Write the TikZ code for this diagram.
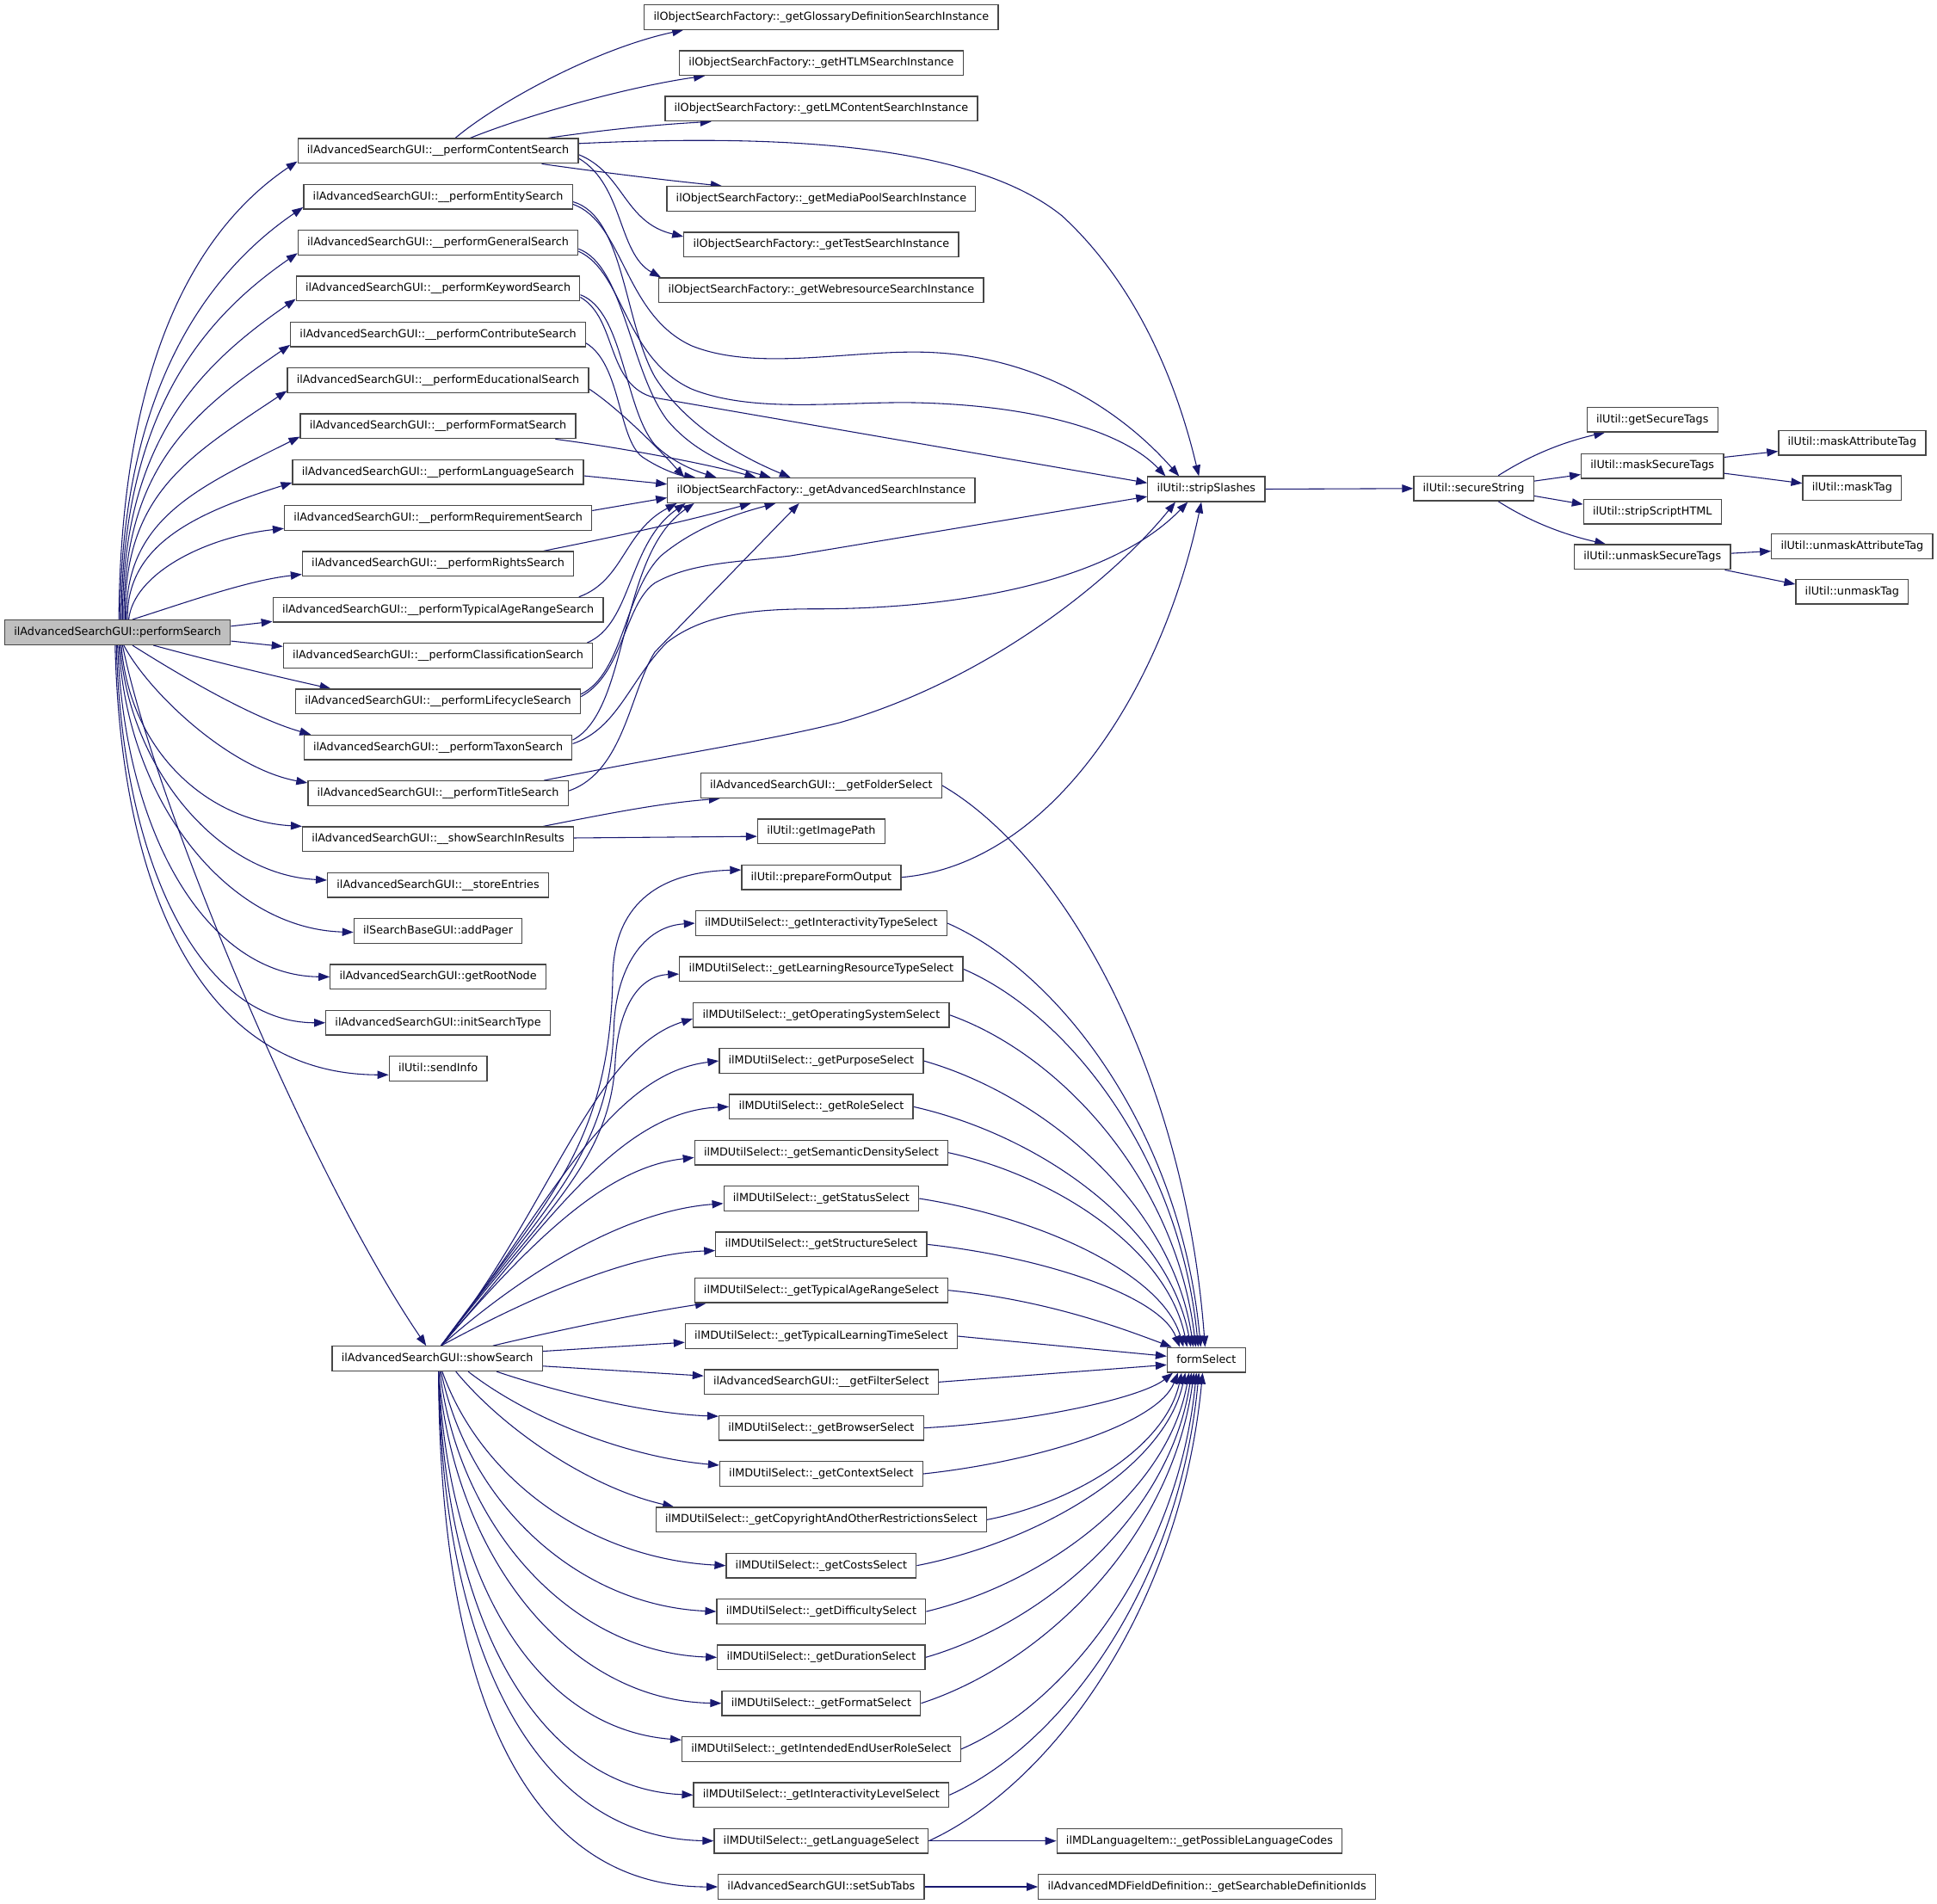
\documentclass[tikz,border=0pt]{standalone}
\usepackage{fontspec}
\setmainfont{DejaVu Sans}
\usetikzlibrary{arrows.meta,calc}
\definecolor{edgec}{HTML}{191970}
\definecolor{rootfill}{HTML}{BFBFBF}
\pgfdeclarelayer{bg}
\pgfsetlayers{bg,main}
\begin{document}
\begin{tikzpicture}[x=1pt,y=-1pt,
  box/.style={draw=black!72, line width=0.9pt, fill=white, font=\fontsize{8.9}{10}\selectfont,
    minimum height=20pt, inner xsep=7.5pt, inner ysep=0pt, text height=6.7pt, text depth=1.9pt},
  rootbox/.style={box, fill=rootfill},
  e/.style={draw=edgec, line width=0.75pt, -{Triangle[length=9pt,width=6.5pt]}}]
\useasboundingbox (0,0) rectangle (1568,1541.5);

% root
\node[rootbox] (root) at (95.2,512) {ilAdvancedSearchGUI::performSearch};

% column 2
\node[box] (p1)  at (354.6,122.20) {ilAdvancedSearchGUI::\_\_performContentSearch};
\node[box] (p2)  at (354.6,159.35) {ilAdvancedSearchGUI::\_\_performEntitySearch};
\node[box] (p3)  at (354.6,196.50) {ilAdvancedSearchGUI::\_\_performGeneralSearch};
\node[box] (p4)  at (354.6,233.65) {ilAdvancedSearchGUI::\_\_performKeywordSearch};
\node[box] (p5)  at (354.6,270.80) {ilAdvancedSearchGUI::\_\_performContributeSearch};
\node[box] (p6)  at (354.6,307.95) {ilAdvancedSearchGUI::\_\_performEducationalSearch};
\node[box] (p7)  at (354.6,345.10) {ilAdvancedSearchGUI::\_\_performFormatSearch};
\node[box] (p8)  at (354.6,382.25) {ilAdvancedSearchGUI::\_\_performLanguageSearch};
\node[box] (p9)  at (354.6,419.40) {ilAdvancedSearchGUI::\_\_performRequirementSearch};
\node[box] (p10) at (354.6,456.55) {ilAdvancedSearchGUI::\_\_performRightsSearch};
\node[box] (p11) at (354.6,493.70) {ilAdvancedSearchGUI::\_\_performTypicalAgeRangeSearch};
\node[box] (p12) at (354.6,530.85) {ilAdvancedSearchGUI::\_\_performClassificationSearch};
\node[box] (p13) at (354.6,568.00) {ilAdvancedSearchGUI::\_\_performLifecycleSearch};
\node[box] (p14) at (354.6,605.15) {ilAdvancedSearchGUI::\_\_performTaxonSearch};
\node[box] (p15) at (354.6,642.30) {ilAdvancedSearchGUI::\_\_performTitleSearch};
\node[box] (p16) at (354.6,679.45) {ilAdvancedSearchGUI::\_\_showSearchInResults};
\node[box] (p17) at (354.6,716.60) {ilAdvancedSearchGUI::\_\_storeEntries};
\node[box] (p18) at (354.6,753.75) {ilSearchBaseGUI::addPager};
\node[box] (p19) at (354.6,790.90) {ilAdvancedSearchGUI::getRootNode};
\node[box] (p20) at (354.6,828.05) {ilAdvancedSearchGUI::initSearchType};
\node[box] (p21) at (354.6,865.20) {ilUtil::sendInfo};
\node[box] (ss)  at (354.0,1100)   {ilAdvancedSearchGUI::showSearch};

% column 3 upper
\node[box] (g1) at (664.8,13.8)  {ilObjectSearchFactory::\_getGlossaryDefinitionSearchInstance};
\node[box] (g2) at (664.8,51.0)  {ilObjectSearchFactory::\_getHTLMSearchInstance};
\node[box] (g3) at (664.8,88.0)  {ilObjectSearchFactory::\_getLMContentSearchInstance};
\node[box] (g4) at (664.8,161.0) {ilObjectSearchFactory::\_getMediaPoolSearchInstance};
\node[box] (g5) at (664.8,198.0) {ilObjectSearchFactory::\_getTestSearchInstance};
\node[box] (g6) at (664.8,235.0) {ilObjectSearchFactory::\_getWebresourceSearchInstance};
\node[box] (adv) at (664.8,397.0) {ilObjectSearchFactory::\_getAdvancedSearchInstance};

% column 3 lower
\node[box] (fold) at (664.8,636.00)  {ilAdvancedSearchGUI::\_\_getFolderSelect};
\node[box] (img)  at (664.8,673.15)  {ilUtil::getImagePath};
\node[box] (pfo)  at (664.8,710.30)  {ilUtil::prepareFormOutput};
\node[box] (s1)   at (664.8,747.45)  {ilMDUtilSelect::\_getInteractivityTypeSelect};
\node[box] (s2)   at (664.8,784.60)  {ilMDUtilSelect::\_getLearningResourceTypeSelect};
\node[box] (s3)   at (664.8,821.75)  {ilMDUtilSelect::\_getOperatingSystemSelect};
\node[box] (s4)   at (664.8,858.90)  {ilMDUtilSelect::\_getPurposeSelect};
\node[box] (s5)   at (664.8,896.05)  {ilMDUtilSelect::\_getRoleSelect};
\node[box] (s6)   at (664.8,933.20)  {ilMDUtilSelect::\_getSemanticDensitySelect};
\node[box] (s7)   at (664.8,970.35)  {ilMDUtilSelect::\_getStatusSelect};
\node[box] (s8)   at (664.8,1007.50) {ilMDUtilSelect::\_getStructureSelect};
\node[box] (s9)   at (664.8,1044.65) {ilMDUtilSelect::\_getTypicalAgeRangeSelect};
\node[box] (s10)  at (664.8,1081.80) {ilMDUtilSelect::\_getTypicalLearningTimeSelect};
\node[box] (s11)  at (664.8,1118.95) {ilAdvancedSearchGUI::\_\_getFilterSelect};
\node[box] (s12)  at (664.8,1156.10) {ilMDUtilSelect::\_getBrowserSelect};
\node[box] (s13)  at (664.8,1193.25) {ilMDUtilSelect::\_getContextSelect};
\node[box] (s14)  at (664.8,1230.40) {ilMDUtilSelect::\_getCopyrightAndOtherRestrictionsSelect};
\node[box] (s15)  at (664.8,1267.55) {ilMDUtilSelect::\_getCostsSelect};
\node[box] (s16)  at (664.8,1304.70) {ilMDUtilSelect::\_getDifficultySelect};
\node[box] (s17)  at (664.8,1341.85) {ilMDUtilSelect::\_getDurationSelect};
\node[box] (s18)  at (664.8,1379.00) {ilMDUtilSelect::\_getFormatSelect};
\node[box] (s19)  at (664.8,1416.15) {ilMDUtilSelect::\_getIntendedEndUserRoleSelect};
\node[box] (s20)  at (664.8,1453.30) {ilMDUtilSelect::\_getInteractivityLevelSelect};
\node[box] (s21)  at (664.8,1490.45) {ilMDUtilSelect::\_getLanguageSelect};
\node[box] (sub)  at (664.8,1527.60) {ilAdvancedSearchGUI::setSubTabs};

% column 4
\node[box] (strip) at (976.5,396.0)   {ilUtil::stripSlashes};
\node[box] (form)  at (976.5,1101.0)  {formSelect};
\node[box] (lang)  at (971.0,1490.45) {ilMDLanguageItem::\_getPossibleLanguageCodes};
\node[box] (defs)  at (977.0,1527.60) {ilAdvancedMDFieldDefinition::\_getSearchableDefinitionIds};

% column 5-7
\node[box] (sec) at (1192.9,395.5) {ilUtil::secureString};
\node[box] (gst) at (1337.6,339.7) {ilUtil::getSecureTags};
\node[box] (mst) at (1337.6,377.2) {ilUtil::maskSecureTags};
\node[box] (ssh) at (1337.6,414.3) {ilUtil::stripScriptHTML};
\node[box] (ust) at (1337.6,451.0) {ilUtil::unmaskSecureTags};
\node[box] (mat) at (1499.3,358.4) {ilUtil::maskAttributeTag};
\node[box] (mt)  at (1499.3,395.3) {ilUtil::maskTag};
\node[box] (uat) at (1499.3,442.2) {ilUtil::unmaskAttributeTag};
\node[box] (ut)  at (1499.3,479.0) {ilUtil::unmaskTag};

\begin{pgfonlayer}{bg}
% root top fan
\draw[e] ($(root.north)+(1,0)$) .. controls (98,290) and (160,185) .. ($(p1.south west)+(0,-2)$);
\draw[e] ($(root.north)+(2,0)$) .. controls (98,318) and (166,222) .. ($(p2.south west)+(0,-2)$);
\draw[e] ($(root.north)+(3,0)$) .. controls (99,338) and (161,260) .. ($(p3.south west)+(0,-2)$);
\draw[e] ($(root.north)+(4,0)$) .. controls (99,359) and (160,297) .. ($(p4.south west)+(0,-2)$);
\draw[e] ($(root.north)+(5,0)$) .. controls (100,379) and (155,334) .. ($(p5.south west)+(0,-2)$);
\draw[e] ($(root.north)+(6,0)$) .. controls (100,400) and (152,370) .. ($(p6.south west)+(0,-2)$);
\draw[e] ($(root.north)+(7,0)$) .. controls (101,420) and (160,395) .. ($(p7.south west)+(0,-2)$);
\draw[e] ($(root.north)+(8,0)$) .. controls (102,440) and (160,415) .. ($(p8.south west)+(0,-2)$);
\draw[e] ($(root.north)+(9,0)$) .. controls (108,465) and (165,435) .. ($(p9.south west)+(0,-2)$);
\draw[e] ($(root.north)+(12,0)$) .. controls (150,488) and (200,470) .. ($(p10.south west)+(0,-2)$);
% root right
\draw[e] ($(root.east)+(0,-5)$) -- ($(p11.south west)+(0,-1)$);
\draw[e] ($(root.east)+(0,7)$) -- ($(p12.north west)+(0,3)$);
% root bottom fan
\draw[e] ($(root.south)+(29,0)$) .. controls (170,535) and (225,548) .. ($(p13.north west)+(29,0)$);
\draw[e] ($(root.south)+(12,0)$) .. controls (135,540) and (200,580) .. ($(p14.north west)+(6,0)$);
\draw[e] ($(root.south)+(5,0)$) .. controls (120,560) and (185,622) .. ($(p15.north west)+(0,2)$);
\draw[e] ($(root.south)+(3,0)$) .. controls (105,610) and (170,665) .. (p16.north west);
\draw[e] ($(root.south)+(2,0)$) .. controls (104,620) and (175,708) .. ($(p17.west)+(0,-4)$);
\draw[e] ($(root.south)+(1,0)$) .. controls (103,650) and (185,752) .. ($(p18.west)+(0,1)$);
\draw[e] (root.south) .. controls (101,680) and (170,790) .. (p19.west);
\draw[e] ($(root.south)+(-1,0)$) .. controls (99,705) and (165,828) .. (p20.west);
\draw[e] ($(root.south)+(-2,0)$) .. controls (98,725) and (165,870) .. ($(p21.west)+(0,5)$);
\draw[e] ($(root.south)+(4,0)$) .. controls (125,650) and (250,950) .. ($(ss.north)+(-9,0)$);

% content search
\draw[e] ($(p1.north)+(14,0)$) .. controls (400,85) and (480,40) .. ($(g1.south west)+(32,0)$);
\draw[e] ($(p1.north)+(26,0)$) .. controls (430,92) and (510,70) .. ($(g2.south west)+(21,0)$);
\draw[e] ($(p1.north east)+(-25,0)$) .. controls (490,105) and (530,101) .. ($(g3.south west)+(38,0)$);
\draw[e] ($(p1.south east)+(-30,0)$) .. controls (490,140) and (540,146) .. ($(g4.north west)+(45,0)$);
\draw[e] ($(p1.east)+(0,3)$) .. controls (505,140) and (505,180) .. ($(g5.north west)+(0,4)$);
\draw[e] ($(p1.east)+(0,6)$) .. controls (505,150) and (500,205) .. ($(g6.north west)+(2,0)$);
\draw[e] ($(p1.east)+(0,-6)$) .. controls (640,108) and (790,118) .. (860,175) .. controls (925,235) and (955,320) .. ($(strip.north)+(-6,0)$);

% entity, general, keyword
\draw[e] ($(p2.east)+(0,4)$) .. controls (505,175) and (505,260) .. (530,305) .. controls (555,345) and (600,370) .. ($(adv.north west)+(100,0)$);
\draw[e] ($(p2.east)+(0,6)$) .. controls (505,180) and (505,255) .. (560,280) .. controls (610,300) and (680,285) .. (740,285) .. controls (840,285) and (910,335) .. ($(strip.north)+(-22,0)$);
\draw[e] ($(p3.east)+(0,5)$) .. controls (505,215) and (510,300) .. (540,340) .. controls (565,370) and (600,380) .. ($(adv.north west)+(84,0)$);
\draw[e] ($(p3.east)+(0,7)$) .. controls (505,220) and (505,290) .. (560,315) .. controls (610,335) and (680,325) .. (740,326) .. controls (840,328) and (910,350) .. ($(strip.north)+(-33,0)$);
\draw[e] ($(p4.east)+(0,5)$) .. controls (505,252) and (505,330) .. (530,360) .. controls (545,375) and (565,382) .. ($(adv.north west)+(40,0)$);
\draw[e] ($(p4.east)+(0,7)$) .. controls (500,258) and (490,312) .. (530,322) -- ($(strip.west)+(0,-5)$);
% contribute .. requirement
\draw[e] ($(p5.east)+(0,7)$) .. controls (503,295) and (500,355) .. (520,370) .. controls (535,380) and (550,385) .. ($(adv.north west)+(23,0)$);
\draw[e] ($(p6.east)+(0,7)$) .. controls (500,330) and (535,365) .. ($(adv.north west)+(14,0)$);
\draw[e] ($(p7.south east)+(-17,0)$) .. controls (500,362) and (570,375) .. ($(adv.north west)+(72,0)$);
\draw[e] ($(p8.east)+(0,3)$) -- ($(adv.west)+(0,-5)$);
\draw[e] ($(p9.east)+(0,-6)$) -- ($(adv.west)+(0,6)$);
% rights .. title
\draw[e] ($(p10.north east)+(-25,0)$) .. controls (480,438) and (545,425) .. ($(adv.south west)+(68,0)$);
\draw[e] ($(p11.north east)+(-20,0)$) .. controls (505,470) and (505,430) .. ($(adv.south west)+(8,0)$);
\draw[e] ($(p12.north east)+(-5,0)$) .. controls (512,505) and (508,440) .. ($(adv.south west)+(15,0)$);
\draw[e] ($(p13.east)+(0,-6)$) .. controls (505,545) and (505,480) .. (535,450) .. controls (565,425) and (600,415) .. ($(adv.south west)+(88,0)$);
\draw[e] ($(p13.east)+(0,-4)$) .. controls (505,545) and (505,490) .. (530,472) .. controls (560,455) and (600,455) .. (640,450) -- ($(strip.west)+(0,6)$);
\draw[e] ($(p14.east)+(0,-6)$) .. controls (510,575) and (500,450) .. ($(adv.south west)+(22,0)$);
\draw[e] ($(p14.east)+(0,-3)$) .. controls (500,590) and (510,550) .. (540,520) .. controls (570,497) and (610,493) .. (660,493) .. controls (780,493) and (900,470) .. ($(strip.south)+(-15,0)$);
\draw[e] ($(p15.east)+(0,-2)$) .. controls (505,625) and (510,560) .. (530,528) -- ($(adv.south west)+(107,0)$);
\draw[e] ($(p15.north east)+(-20,0)$) .. controls (550,610) and (620,600) .. (680,585) .. controls (800,550) and (900,470) .. ($(strip.south)+(-25,0)$);
% show search in results
\draw[e] ($(p16.north east)+(-25,0)$) .. controls (510,655) and (540,650) .. ($(fold.south west)+(16,0)$);
\draw[e] ($(p16.east)+(0,-1)$) -- ($(img.west)+(0,4)$);

% prepareFormOutput, folder select
\draw[e] (pfo.east) .. controls (850,700) and (940,560) .. ($(strip.south)+(-4,0)$);
\draw[e] (fold.east) .. controls +(95,55) and +(-17,-228) .. ($(form.north)+(-1,0)$);

% showSearch upper fan
\draw[e] ($(ss.north)+(3,0)$) .. controls (440,975) and (494,930) .. (496,790) .. controls (497,735) and (530,706) .. ($(pfo.west)+(0,-6)$);
\draw[e] ($(ss.north)+(3,0)$) .. controls (440,978) and (494,935) .. (497,830) .. controls (499,785) and (520,750) .. (s1.west);
\draw[e] ($(ss.north)+(3,0)$) .. controls (440,982) and (494,940) .. (498,860) .. controls (500,820) and (515,790) .. ($(s2.west)+(0,4)$);
\draw[e] ($(ss.north)+(3,0)$) .. controls (445,980) and (480,850) .. ($(s3.west)+(0,3)$);
\draw[e] ($(ss.north)+(3,0)$) .. controls (440,985) and (490,870) .. (s4.west);
\draw[e] ($(ss.north)+(3,0)$) .. controls (440,995) and (500,900) .. (s5.west);
\draw[e] ($(ss.north)+(3,0)$) .. controls (430,1005) and (490,945) .. ($(s6.west)+(0,4)$);
\draw[e] ($(ss.north)+(3,0)$) .. controls (430,1025) and (510,980) .. ($(s7.west)+(0,4)$);
\draw[e] ($(ss.north)+(3,0)$) .. controls (430,1050) and (510,1015) .. ($(s8.west)+(0,5)$);
\draw[e] ($(ss.north)+(45,0)$) .. controls (460,1075) and (520,1063) .. ($(s9.south west)+(10,0)$);
\draw[e] ($(ss.east)+(0,-6)$) -- ($(s10.west)+(0,5)$);
\draw[e] ($(ss.east)+(0,6)$) -- ($(s11.west)+(0,-5)$);
% showSearch lower fan
\draw[e] ($(ss.south)+(48,0)$) .. controls (460,1130) and (530,1145) .. ($(s12.north west)+(0,1)$);
\draw[e] ($(ss.south)+(25,0)$) .. controls (430,1150) and (510,1180) .. ($(s13.west)+(0,-7)$);
\draw[e] ($(ss.south)+(15,0)$) .. controls (410,1160) and (480,1205) .. ($(s14.north west)+(15,0)$);
\draw[e] ($(ss.south)+(4,0)$) .. controls (390,1200) and (480,1262) .. (s15.west);
\draw[e] ($(ss.south)+(3,0)$) .. controls (380,1220) and (470,1300) .. (s16.west);
\draw[e] ($(ss.south)+(2,0)$) .. controls (372,1240) and (465,1338) .. (s17.west);
\draw[e] ($(ss.south)+(1,0)$) .. controls (367,1260) and (460,1377) .. (s18.west);
\draw[e] ($(ss.south)+(1,0)$) .. controls (363,1290) and (440,1400) .. ($(s19.north west)+(0,3)$);
\draw[e] ($(ss.south)+(1,0)$) .. controls (360,1320) and (440,1448) .. (s20.west);
\draw[e] ($(ss.south)+(1,0)$) .. controls (358,1350) and (440,1488) .. (s21.west);
\draw[e] ($(ss.south)+(1,0)$) .. controls (356,1380) and (430,1528) .. (sub.west);

% formSelect fan
\draw[e] (s1.east) .. controls +(93,41) and +(-16,-172) .. ($(form.north)+(-4.5,0)$);
\draw[e] (s2.east) .. controls +(86,37) and +(-15,-153) .. ($(form.north)+(-6.5,0)$);
\draw[e] (s3.east) .. controls +(90,32) and +(-16,-135) .. ($(form.north)+(-8.5,0)$);
\draw[e] (s4.east) .. controls +(98,28) and +(-17,-116) .. ($(form.north)+(-10.5,0)$);
\draw[e] (s5.east) .. controls +(102,23) and +(-18,-98) .. ($(form.north)+(-12.5,0)$);
\draw[e] (s6.east) .. controls +(87,19) and +(-16,-79) .. ($(form.north)+(-15.5,0)$);
\draw[e] (s7.east) .. controls +(96,15) and +(-17,-60) .. ($(form.north)+(-18.5,0)$);
\draw[e] (s8.east) .. controls +(92,10) and +(-16,-42) .. ($(form.north)+(-21.5,0)$);
\draw[e] (s9.east) .. controls +(80,8) and +(-40,-15) .. ($(form.north west)+(4,0)$);
\draw[e] (s10.east) -- ($(form.west)+(0,-3)$);
\draw[e] (s11.east) -- ($(form.west)+(0,4)$);
\draw[e] (s12.east) .. controls +(90,-5) and +(-25,20) .. ($(form.south west)+(5,0)$);
\draw[e] (s13.east) .. controls +(93,-10) and +(-16,41) .. ($(form.south)+(-23,0)$);
\draw[e] (s14.east) .. controls +(71,-14) and +(-13,60) .. ($(form.south)+(-20,0)$);
\draw[e] (s15.east) .. controls +(97,-19) and +(-17,78) .. ($(form.south)+(-17,0)$);
\draw[e] (s16.east) .. controls +(96,-23) and +(-17,97) .. ($(form.south)+(-14,0)$);
\draw[e] (s17.east) .. controls +(97,-28) and +(-17,115) .. ($(form.south)+(-12,0)$);
\draw[e] (s18.east) .. controls +(99,-32) and +(-18,134) .. ($(form.south)+(-10,0)$);
\draw[e] (s19.east) .. controls +(86,-37) and +(-15,152) .. ($(form.south)+(-8,0)$);
\draw[e] (s20.east) .. controls +(92,-41) and +(-16,171) .. ($(form.south)+(-6,0)$);
\draw[e] (s21.east) .. controls +(100,-46) and +(-18,190) .. ($(form.south)+(-3,0)$);
\draw[e] (s21.east) -- (lang.west);
\draw[e] (sub.east) -- (defs.west);

% right part
\draw[e] (strip.east) -- (sec.west);
\draw[e] ($(sec.north east)+(-29,0)$) .. controls +(25,-16) and +(-35,8) .. ($(gst.south west)+(15,0)$);
\draw[e] ($(sec.east)+(0,-6)$) -- ($(mst.west)+(0,7)$);
\draw[e] ($(sec.east)+(0,6)$) -- ($(ssh.west)+(0,-6)$);
\draw[e] ($(sec.south east)+(-29,0)$) .. controls +(25,16) and +(-35,-8) .. ($(ust.north west)+(26,0)$);
\draw[e] ($(mst.east)+(0,-7)$) -- ($(mat.west)+(0,7)$);
\draw[e] ($(mst.east)+(0,6)$) -- ($(mt.west)+(0,-4)$);
\draw[e] ($(ust.east)+(0,-3)$) -- ($(uat.west)+(0,4)$);
\draw[e] ($(ust.south east)+(-5,0)$) -- ($(ut.west)+(0,-6)$);
\end{pgfonlayer}
\end{tikzpicture}
\end{document}
